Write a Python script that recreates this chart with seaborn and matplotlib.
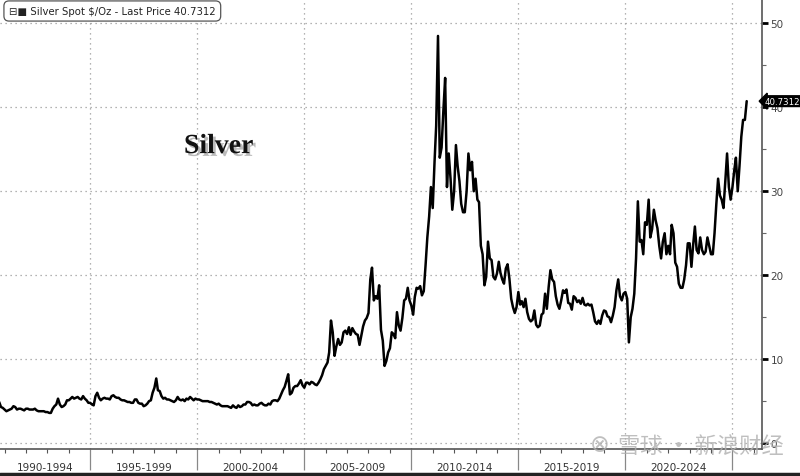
import pandas as pd
import matplotlib
matplotlib.use("Agg")
import matplotlib.pyplot as plt
import matplotlib.dates as mdates
import matplotlib.patheffects as pe
from matplotlib.ticker import MultipleLocator
import seaborn as sns

# Silver spot $/oz, monthly readings from Oct 1990 to Sep 2025
start_month = "1990-10-01"
prices = [
    4.9, 4.3, 4.2,                                                     # 1990 (Oct-Dec)
    4.0, 3.8, 3.9, 4.0, 4.1, 4.4, 4.3, 4.0, 4.1, 4.1, 4.0, 3.9,        # 1991
    4.1, 4.1, 4.0, 4.0, 4.0, 4.1, 3.9, 3.8, 3.8, 3.8, 3.8, 3.7,        # 1992
    3.7, 3.6, 3.6, 4.1, 4.4, 4.6, 5.3, 4.6, 4.3, 4.4, 4.6, 5.1,        # 1993
    5.1, 5.3, 5.5, 5.3, 5.4, 5.5, 5.3, 5.2, 5.6, 5.3, 5.1, 4.8,        # 1994
    4.8, 4.6, 4.5, 5.6, 6.0, 5.4, 5.1, 5.3, 5.4, 5.3, 5.3, 5.2,        # 1995
    5.6, 5.7, 5.5, 5.4, 5.4, 5.2, 5.1, 5.1, 5.0, 4.9, 4.9, 4.8,        # 1996
    4.8, 5.2, 5.2, 4.8, 4.7, 4.7, 4.4, 4.5, 4.7, 5.0, 5.1, 6.0,        # 1997
    6.6, 7.7, 6.3, 6.2, 5.6, 5.3, 5.4, 5.2, 5.2, 5.1, 5.0, 4.9,        # 1998
    5.1, 5.5, 5.2, 5.1, 5.2, 5.0, 5.3, 5.2, 5.5, 5.3, 5.1, 5.3,        # 1999
    5.2, 5.2, 5.1, 5.0, 5.0, 5.0, 5.0, 4.9, 4.9, 4.8, 4.7, 4.6,        # 2000
    4.7, 4.5, 4.4, 4.4, 4.4, 4.4, 4.3, 4.2, 4.5, 4.3, 4.2, 4.5,        # 2001
    4.3, 4.4, 4.6, 4.6, 4.9, 4.9, 4.8, 4.5, 4.6, 4.5, 4.5, 4.7,        # 2002
    4.8, 4.6, 4.5, 4.5, 4.7, 4.6, 5.0, 5.1, 5.1, 5.0, 5.3, 5.8,        # 2003
    6.3, 6.7, 7.4, 8.2, 5.8, 6.0, 6.6, 6.8, 6.8, 7.1, 7.5, 6.9,        # 2004
    6.6, 7.2, 7.2, 7.0, 7.3, 7.2, 7.0, 6.9, 7.2, 7.6, 8.1, 8.8,        # 2005
    9.2, 9.6, 10.8, 14.6, 13.2, 10.4, 11.5, 12.4, 11.7, 12.0, 13.2, 13.4,  # 2006
    13.0, 13.8, 12.9, 13.7, 13.3, 13.0, 12.9, 11.7, 12.8, 13.9, 14.6, 14.9,  # 2007
    15.5, 19.5, 20.9, 17.0, 17.5, 17.2, 18.8, 13.5, 12.2, 9.2, 9.8, 10.8,  # 2008
    11.3, 13.2, 13.0, 12.5, 15.6, 14.0, 13.4, 14.9, 17.0, 17.2, 18.5, 17.0,  # 2009
    16.4, 15.3, 17.4, 18.5, 18.4, 18.7, 17.6, 18.1, 21.2, 24.5, 27.0, 30.5,  # 2010
    28.0, 33.5, 37.8, 48.5, 34.0, 35.2, 39.5, 43.5, 30.5, 34.5, 31.5, 27.8,  # 2011
    30.0, 35.5, 33.0, 31.2, 28.5, 27.5, 27.5, 30.0, 34.5, 32.5, 33.5, 30.0,  # 2012
    31.5, 29.0, 28.7, 23.5, 22.5, 18.8, 19.8, 24.0, 22.0, 21.8, 19.8, 19.5,  # 2013
    20.2, 21.6, 20.3, 19.5, 19.0, 20.8, 21.3, 19.6, 17.2, 16.2, 15.5, 16.2,  # 2014
    18.0, 16.5, 16.9, 16.2, 17.2, 15.6, 14.8, 14.5, 14.7, 15.8, 14.1, 13.8,  # 2015
    14.0, 15.3, 15.5, 17.8, 16.0, 18.6, 20.6, 19.5, 19.2, 17.5, 16.5, 16.0,  # 2016
    17.0, 18.2, 17.9, 18.3, 16.7, 16.6, 15.9, 17.5, 17.3, 16.8, 17.0, 16.6,  # 2017
    17.3, 16.5, 16.4, 16.6, 16.4, 16.5, 15.6, 14.5, 14.2, 14.6, 14.2, 15.2,  # 2018
    15.8, 15.7, 15.1, 15.0, 14.4, 15.2, 16.2, 18.2, 19.5, 17.5, 17.0, 17.8,  # 2019
    18.0, 17.2, 12.0, 15.0, 16.0, 17.8, 22.0, 28.8, 24.0, 24.2, 22.5, 26.3,  # 2020
    26.0, 29.0, 24.5, 25.5, 27.8, 26.5, 25.6, 23.5, 22.0, 24.0, 25.0, 22.5,  # 2021
    23.5, 22.5, 26.0, 25.0, 21.5, 21.0, 19.0, 18.5, 18.5, 19.5, 21.2, 23.8,  # 2022
    23.8, 21.0, 23.5, 25.8, 23.0, 22.6, 24.5, 23.0, 22.5, 22.8, 24.5, 23.5,  # 2023
    22.5, 22.5, 25.0, 28.5, 31.5, 29.5, 29.0, 28.0, 31.2, 34.5, 30.5, 29.0,  # 2024
    30.5, 32.5, 34.0, 30.0, 33.0, 36.5, 38.5, 38.5, 40.7312,                # 2025
]
period_labels = ["1990-1994", "1995-1999", "2000-2004", "2005-2009",
                 "2010-2014", "2015-2019", "2020-2024"]
period_starts = [1990, 1995, 2000, 2005, 2010, 2015, 2020]
y_ticks = [0, 10, 20, 30, 40, 50]
last_price = "40.7312"
legend_text = "\u229f\u25a0 Silver Spot $/Oz - Last Price 40.7312"

df = pd.DataFrame({
    "date": pd.date_range(start_month, periods=len(prices), freq="MS"),
    "price": prices,
})

sns.set_theme(style="white")
plt.rcParams["font.family"] = ["DejaVu Sans"]

fig = plt.figure(figsize=(8, 4.77), dpi=100)
ax = fig.add_axes([0.0, 27 / 477, 762 / 800, 450 / 477])

sns.lineplot(data=df, x="date", y="price", color="black", linewidth=1.8, ax=ax)

x_min = pd.Timestamp("1990-10-15")
x_max = pd.Timestamp("2026-05-20")
ax.set_xlim(x_min, x_max)
ax.set_ylim(-0.7, 52.9)

# grid
grid_kw = dict(color="#9a9a9a", linewidth=0.9, linestyle=(0, (1, 3)))
for yv in y_ticks:
    ax.axhline(yv, **grid_kw, zorder=0)
for yr in period_starts[1:] + [2025]:
    ax.axvline(pd.Timestamp(f"{yr}-01-01"), **grid_kw, zorder=0)

# spines
for s in ["top", "left"]:
    ax.spines[s].set_visible(False)
ax.spines["right"].set_color("#555555")
ax.spines["bottom"].set_color("#555555")
ax.spines["right"].set_linewidth(1.2)
ax.spines["bottom"].set_linewidth(1.2)

# y axis on right
ax.yaxis.tick_right()
ax.set_yticks(y_ticks)
ax.yaxis.set_minor_locator(MultipleLocator(5))
ax.tick_params(axis="y", which="major", direction="out", length=4, width=2,
               color="black", labelsize=7.5, labelcolor="#444444", pad=2)
ax.tick_params(axis="y", which="minor", direction="out", length=3, width=0.8,
               color="#666666", right=True)
ax.set_ylabel("")
ax.set_xlabel("")

# x axis: long separators every 5 years, small ticks yearly
ax.xaxis.set_major_locator(mdates.YearLocator(5))
ax.xaxis.set_minor_locator(mdates.YearLocator(1))
ax.tick_params(axis="x", which="major", direction="out", length=15, width=0.9,
               color="#888888", labelbottom=False, bottom=True)
ax.tick_params(axis="x", which="minor", direction="out", length=3, width=0.8,
               color="#555555", bottom=True)

for lab, yr in zip(period_labels, period_starts):
    left = max(pd.Timestamp(f"{yr}-01-01"), x_min)
    right = pd.Timestamp(f"{yr + 5}-01-01")
    mid = left + (right - left) / 2
    ax.text(mid, -0.04, lab, transform=ax.get_xaxis_transform(), ha="center",
            va="center", fontsize=7.5, color="#333333")

# legend box top-left
fig.text(9 / 800, 1 - 12 / 477, legend_text, fontsize=7.3, color="#222222",
         va="center", ha="left",
         bbox=dict(boxstyle="round,pad=0.5,rounding_size=0.5", fc="white",
                   ec="#555555", lw=0.9))

# "Silver" title with shadow
ax.text(0.287, 0.672, "Silver", transform=ax.transAxes, fontsize=20,
        fontweight="bold", family="Liberation Serif", color="#111111",
        ha="center", va="center",
        path_effects=[pe.withSimplePatchShadow(offset=(2, -2), shadow_rgbFace="#777777", alpha=0.5)])

# last price tag
ax.annotate(last_price, xy=(1.0, 40.7312), xycoords=("axes fraction", "data"),
            xytext=(2, 0), textcoords="offset points", fontsize=6.2, color="white",
            va="center", ha="left", annotation_clip=False, zorder=10,
            bbox=dict(boxstyle="larrow,pad=0.1", fc="black", ec="black"))

# watermark
fig.text(618 / 800, 0.064, "\u96ea\u7403 \u00b7 \u65b0\u6d6a\u8d22\u7ecf", fontsize=16,
         color="#b0b0b0", alpha=0.8, ha="left", va="center",
         family=["Noto Sans CJK SC", "DejaVu Sans"])
fig.text(600 / 800, 0.068, "\u2297", fontsize=17, color="#b0b0b0", alpha=0.8,
         ha="center", va="center")

# bottom frame line
fig.add_artist(plt.Line2D([0, 1], [0.004, 0.004], color="#222222", linewidth=2.5,
                          transform=fig.transFigure))

fig.savefig("out.png", dpi=100)
